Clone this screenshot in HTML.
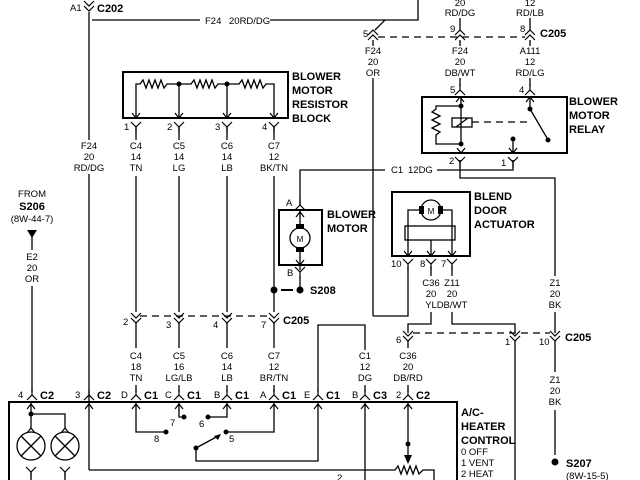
<!DOCTYPE html>
<html><head><meta charset="utf-8"><style>
html,body{margin:0;padding:0;background:#fff;}
svg{display:block;}
text{font-family:"Liberation Sans",sans-serif;fill:#000;}
.s{font-size:9.5px;text-anchor:middle;}
.sl{font-size:9.5px;}
.b{font-size:11px;font-weight:bold;}
</style></head><body>
<svg width="640" height="480" viewBox="0 0 640 480" xmlns="http://www.w3.org/2000/svg">
<defs>
<g id="fd"><polyline points="-5,-5 0,0 5,-5" fill="none" stroke="#000" stroke-width="1.2"/><line x1="0" y1="0" x2="0" y2="6" stroke="#000" stroke-width="1.2"/></g>
<g id="fu"><polyline points="-5,5 0,0 5,5" fill="none" stroke="#000" stroke-width="1.2"/><line x1="0" y1="0" x2="0" y2="-6" stroke="#000" stroke-width="1.2"/></g>
<g id="dd"><polyline points="-5,-6 0,-1 5,-6" fill="none" stroke="#000" stroke-width="1.2"/><polyline points="-5,-1 0,4 5,-1" fill="none" stroke="#000" stroke-width="1.2"/></g>
<g id="du"><polyline points="-5,1 0,-4 5,1" fill="none" stroke="#000" stroke-width="1.2"/><polyline points="-5,6 0,1 5,6" fill="none" stroke="#000" stroke-width="1.2"/></g>
<g id="ad"><polyline points="-4,-5 0,0 4,-5" fill="none" stroke="#000" stroke-width="1.2"/></g>
<g id="au"><polyline points="-4,5 0,0 4,5" fill="none" stroke="#000" stroke-width="1.2"/></g>
</defs>
<g stroke="#000" stroke-width="1.3" fill="none">
<line x1="89" y1="12" x2="89" y2="140"/><line x1="89" y1="174" x2="89" y2="470"/>
<polyline points="92,20 200,20"/><polyline points="270,20 418,20 418,0"/>
<polyline points="385,20 375,30"/>
<line x1="378" y1="37" x2="525" y2="37" stroke-dasharray="7,5"/>
<line x1="460" y1="18" x2="460" y2="30"/><line x1="530" y1="18" x2="530" y2="30"/>
<line x1="373" y1="40" x2="373" y2="46"/><line x1="460" y1="40" x2="460" y2="46"/><line x1="530" y1="40" x2="530" y2="46"/>
<line x1="373" y1="78" x2="373" y2="316"/><polyline points="373,316 408,316 408,267"/>
<line x1="460" y1="78" x2="460" y2="86"/><line x1="530" y1="78" x2="530" y2="86"/>
<rect x="123" y="72" width="165" height="46" stroke-width="2"/>
<polyline points="136,118 136,84 140,84 143,80 146,88 149,80 152,88 155,80 158,88 161,80 164,88 167,84 179,84 191,84 194,80 197,88 200,80 203,88 206,80 209,88 212,80 215,88 218,84 227,84 239,84 242,80 245,88 248,80 251,88 254,80 257,88 260,80 263,88 266,84 274,84 274,118"/>
<line x1="179" y1="84" x2="179" y2="118"/><line x1="227" y1="84" x2="227" y2="118"/>
<line x1="136" y1="126" x2="136" y2="140"/><line x1="179" y1="126" x2="179" y2="140"/><line x1="227" y1="126" x2="227" y2="140"/><line x1="274" y1="126" x2="274" y2="140"/>
<line x1="136" y1="176" x2="136" y2="312"/><line x1="179" y1="176" x2="179" y2="312"/><line x1="227" y1="176" x2="227" y2="312"/><line x1="274" y1="176" x2="274" y2="312"/>
<line x1="140" y1="316" x2="272" y2="316" stroke-dasharray="7,5"/>
<line x1="136" y1="322" x2="136" y2="348"/><line x1="179" y1="322" x2="179" y2="348"/><line x1="227" y1="322" x2="227" y2="348"/><line x1="274" y1="322" x2="274" y2="348"/>
<line x1="136" y1="385" x2="136" y2="392"/><line x1="179" y1="385" x2="179" y2="392"/><line x1="227" y1="385" x2="227" y2="392"/><line x1="274" y1="385" x2="274" y2="392"/>
<line x1="32" y1="234" x2="32" y2="250"/><line x1="32" y1="286" x2="32" y2="392"/>
<rect x="279" y="210" width="43" height="55" stroke-width="2"/>
<polyline points="300,205 300,170 385,170"/><polyline points="437,170 513,170 513,160"/>
<line x1="300" y1="210" x2="300" y2="228"/><line x1="300" y1="248" x2="300" y2="270"/>
<circle cx="300" cy="238" r="10"/>
<line x1="300" y1="276" x2="300" y2="290"/>
<line x1="281" y1="290" x2="293" y2="290" stroke-width="2"/>
<rect x="422" y="97" width="145" height="56" stroke-width="2"/>
<polyline points="461,97 461,146"/>
<polyline points="461,106 436,106 436,109 432,112 440,116 432,120 440,124 432,128 440,132 436,135 436,144 461,144"/>
<rect x="452" y="118" width="20" height="9"/>
<line x1="456" y1="127" x2="468" y2="118"/>
<line x1="472" y1="122" x2="530" y2="122" stroke-dasharray="7,5"/>
<line x1="530" y1="97" x2="530" y2="109"/><line x1="530" y1="109" x2="547" y2="138"/>
<line x1="513" y1="139" x2="513" y2="153"/>
<polyline points="460,160 460,178 555,178 555,276"/>
<rect x="392" y="192" width="78" height="64" stroke-width="2"/>
<circle cx="431" cy="210" r="10"/>
<polyline points="421,210 408,210 408,256"/><polyline points="441,210 452,210 452,256"/>
<rect x="405" y="226" width="50" height="14"/>
<line x1="431" y1="240" x2="431" y2="256"/>
<line x1="431" y1="266" x2="431" y2="276"/><line x1="452" y1="266" x2="452" y2="276"/>
<polyline points="431,312 431,324 408,324 408,333"/>
<polyline points="452,312 452,324 515,324 515,333"/>
<line x1="413" y1="333" x2="550" y2="333" stroke-dasharray="7,5"/>
<line x1="555" y1="312" x2="555" y2="333"/>
<line x1="555" y1="340" x2="555" y2="372"/><line x1="555" y1="410" x2="555" y2="455"/>
<line x1="515" y1="340" x2="515" y2="480"/>
<line x1="408" y1="340" x2="408" y2="348"/><line x1="408" y1="385" x2="408" y2="392"/>
<polyline points="365,350 365,325 318,325 318,392"/>
<line x1="365" y1="385" x2="365" y2="392"/>
<polyline points="9,480 9,402 457,402 457,480" stroke-width="2"/>
<polyline points="31,402 31,428"/><polyline points="31,414 65,414 65,428"/>
<circle cx="31" cy="446" r="14"/><circle cx="65" cy="446" r="14"/>
<line x1="21" y1="436" x2="41" y2="456"/><line x1="41" y1="436" x2="21" y2="456"/>
<line x1="55" y1="436" x2="75" y2="456"/><line x1="75" y1="436" x2="55" y2="456"/>
<line x1="31" y1="472" x2="31" y2="480"/><line x1="65" y1="472" x2="65" y2="480"/>
<polyline points="136,402 136,432 166,432"/>
<polyline points="179,402 179,417 184,417"/>
<polyline points="227,402 227,417 208,417"/>
<polyline points="274,402 274,432 226,432"/>
<line x1="196" y1="448" x2="220" y2="435"/>
<polyline points="196,448 196,461 318,461 318,402"/>
<polyline points="89,470 395,470 398,466 401,474 404,466 407,474 410,466 413,474 416,466 419,474 423,470 434,470 434,480"/>
<line x1="408" y1="402" x2="408" y2="456"/>
<line x1="365" y1="402" x2="365" y2="480"/>
</g>
<g fill="#000">
<circle cx="179" cy="84" r="2.5"/><circle cx="227" cy="84" r="2.5"/>
<rect x="296" y="224" width="8" height="5"/><rect x="296" y="247" width="8" height="5"/>
<rect x="419" y="206" width="5" height="8"/><rect x="438" y="206" width="5" height="8"/>
<circle cx="274" cy="290" r="3.5"/><circle cx="300" cy="290" r="3.5"/>
<circle cx="461" cy="106" r="2.5"/><circle cx="461" cy="144" r="2.5"/>
<circle cx="530" cy="109" r="2.5"/><circle cx="548" cy="140" r="2.5"/><circle cx="513" cy="139" r="2.5"/>
<circle cx="555" cy="462" r="3.5"/>
<polygon points="27,230 37,230 32,238"/>
<circle cx="31" cy="414" r="2.5"/>
<circle cx="166" cy="432" r="2.5"/><circle cx="184" cy="417" r="2.5"/><circle cx="208" cy="417" r="2.5"/><circle cx="226" cy="432" r="2.5"/><circle cx="196" cy="448" r="2.5"/>
<circle cx="408" cy="444" r="2.5"/>
<polygon points="404,455 412,455 408,464"/>
<polygon points="214,436 221,434 218,440"/>
<text x="300" y="242" style="font-size:8px;text-anchor:middle">M</text>
<text x="431" y="214" style="font-size:8px;text-anchor:middle">M</text>
</g>
<use href="#dd" x="89" y="7"/>
<use href="#du" x="373" y="34"/><use href="#du" x="460" y="34"/><use href="#du" x="530" y="34"/>
<use href="#fu" x="460" y="90"/><use href="#fu" x="530" y="90"/>
<use href="#au" x="460" y="97"/><use href="#au" x="530" y="97"/>
<use href="#ad" x="461" y="153"/><use href="#ad" x="513" y="153"/>
<use href="#fd" x="460" y="162"/><use href="#fd" x="513" y="162"/>
<use href="#ad" x="136" y="118"/><use href="#ad" x="179" y="118"/><use href="#ad" x="227" y="118"/><use href="#ad" x="274" y="118"/>
<use href="#fd" x="136" y="127"/><use href="#fd" x="179" y="127"/><use href="#fd" x="227" y="127"/><use href="#fd" x="274" y="127"/>
<use href="#dd" x="136" y="319"/><use href="#dd" x="179" y="319"/><use href="#dd" x="227" y="319"/><use href="#dd" x="274" y="319"/>
<use href="#fu" x="300" y="205"/><use href="#au" x="300" y="212"/>
<use href="#ad" x="300" y="265"/><use href="#fd" x="300" y="272"/>
<use href="#ad" x="408" y="256"/><use href="#ad" x="431" y="256"/><use href="#ad" x="452" y="256"/>
<use href="#fd" x="408" y="264"/><use href="#fd" x="431" y="264"/><use href="#fd" x="452" y="264"/>
<use href="#dd" x="408" y="337"/><use href="#dd" x="515" y="337"/><use href="#dd" x="555" y="337"/>
<use href="#fu" x="32" y="395"/><use href="#fu" x="89" y="395"/><use href="#fu" x="136" y="395"/><use href="#fu" x="179" y="395"/><use href="#fu" x="227" y="395"/><use href="#fu" x="274" y="395"/><use href="#fu" x="318" y="395"/><use href="#fu" x="365" y="395"/><use href="#fu" x="408" y="395"/>
<use href="#au" x="31" y="404"/><use href="#au" x="89" y="404"/><use href="#au" x="136" y="404"/><use href="#au" x="179" y="404"/><use href="#au" x="227" y="404"/><use href="#au" x="274" y="404"/><use href="#au" x="318" y="404"/><use href="#au" x="365" y="404"/><use href="#au" x="408" y="404"/>
<use href="#au" x="31" y="428"/><use href="#au" x="65" y="428"/>
<use href="#fd" x="31" y="472"/><use href="#fd" x="65" y="472"/>
<text class="sl" x="70" y="11">A1</text><text class="b" x="97" y="12">C202</text>
<text class="sl" x="205" y="24">F24</text><text class="sl" x="229" y="24">20RD/DG</text>
<text class="s" x="460" y="6">20</text><text class="s" x="460" y="16">RD/DG</text>
<text class="s" x="530" y="6">12</text><text class="s" x="530" y="16">RD/LB</text>
<text class="sl" x="363" y="37">5</text><text class="sl" x="450" y="32">9</text><text class="sl" x="520" y="32">8</text><text class="b" x="540" y="37">C205</text>
<text class="s" x="373" y="54">F24</text><text class="s" x="373" y="65">20</text><text class="s" x="373" y="76">OR</text>
<text class="s" x="460" y="54">F24</text><text class="s" x="460" y="65">20</text><text class="s" x="460" y="76">DB/WT</text>
<text class="s" x="530" y="54">A111</text><text class="s" x="530" y="65">12</text><text class="s" x="530" y="76">RD/LG</text>
<text class="sl" x="450" y="93">5</text><text class="sl" x="519" y="93">4</text>
<text class="b" x="569" y="105">BLOWER</text><text class="b" x="569" y="119">MOTOR</text><text class="b" x="569" y="133">RELAY</text>
<text class="sl" x="449" y="164">2</text><text class="sl" x="501" y="166">1</text>
<text class="sl" x="391" y="173">C1</text><text class="sl" x="408" y="173">12DG</text>
<text class="b" x="292" y="80">BLOWER</text><text class="b" x="292" y="94">MOTOR</text><text class="b" x="292" y="108">RESISTOR</text><text class="b" x="292" y="122">BLOCK</text>
<text class="sl" x="124" y="130">1</text><text class="sl" x="167" y="130">2</text><text class="sl" x="215" y="130">3</text><text class="sl" x="262" y="130">4</text>
<text class="s" x="89" y="149">F24</text><text class="s" x="89" y="160">20</text><text class="s" x="89" y="171">RD/DG</text>
<text class="s" x="136" y="149">C4</text><text class="s" x="136" y="160">14</text><text class="s" x="136" y="171">TN</text>
<text class="s" x="179" y="149">C5</text><text class="s" x="179" y="160">14</text><text class="s" x="179" y="171">LG</text>
<text class="s" x="227" y="149">C6</text><text class="s" x="227" y="160">14</text><text class="s" x="227" y="171">LB</text>
<text class="s" x="274" y="149">C7</text><text class="s" x="274" y="160">12</text><text class="s" x="274" y="171">BK/TN</text>
<text class="s" x="32" y="197">FROM</text><text class="b" x="32" y="210" text-anchor="middle">S206</text><text class="s" x="32" y="222">(8W-44-7)</text>
<text class="s" x="32" y="260">E2</text><text class="s" x="32" y="271">20</text><text class="s" x="32" y="282">OR</text>
<text class="sl" x="286" y="206">A</text><text class="sl" x="287" y="276">B</text>
<text class="b" x="327" y="218">BLOWER</text><text class="b" x="327" y="232">MOTOR</text>
<text class="b" x="310" y="294">S208</text>
<text class="b" x="474" y="200">BLEND</text><text class="b" x="474" y="214">DOOR</text><text class="b" x="474" y="228">ACTUATOR</text>
<text class="sl" x="391" y="267">10</text><text class="sl" x="420" y="267">8</text><text class="sl" x="441" y="267">7</text>
<text class="s" x="431" y="286">C36</text><text class="s" x="431" y="297">20</text><text class="s" x="431" y="308">YL</text>
<text class="s" x="452" y="286">Z11</text><text class="s" x="452" y="297">20</text><text class="s" x="452" y="308">DB/WT</text>
<text class="s" x="555" y="286">Z1</text><text class="s" x="555" y="297">20</text><text class="s" x="555" y="308">BK</text>
<text class="sl" x="123" y="325">2</text><text class="sl" x="166" y="328">3</text><text class="sl" x="213" y="328">4</text><text class="sl" x="261" y="328">7</text><text class="b" x="283" y="324">C205</text>
<text class="sl" x="396" y="343">6</text><text class="sl" x="505" y="345">1</text><text class="sl" x="539" y="345">10</text><text class="b" x="565" y="341">C205</text>
<text class="s" x="136" y="359">C4</text><text class="s" x="136" y="370">18</text><text class="s" x="136" y="381">TN</text>
<text class="s" x="179" y="359">C5</text><text class="s" x="179" y="370">16</text><text class="s" x="179" y="381">LG/LB</text>
<text class="s" x="227" y="359">C6</text><text class="s" x="227" y="370">14</text><text class="s" x="227" y="381">LB</text>
<text class="s" x="274" y="359">C7</text><text class="s" x="274" y="370">12</text><text class="s" x="274" y="381">BR/TN</text>
<text class="s" x="365" y="359">C1</text><text class="s" x="365" y="370">12</text><text class="s" x="365" y="381">DG</text>
<text class="s" x="408" y="359">C36</text><text class="s" x="408" y="370">20</text><text class="s" x="408" y="381">DB/RD</text>
<text class="s" x="555" y="383">Z1</text><text class="s" x="555" y="394">20</text><text class="s" x="555" y="405">BK</text>
<text class="sl" x="18" y="398">4</text><text class="b" x="40" y="399">C2</text>
<text class="sl" x="75" y="398">3</text><text class="b" x="97" y="399">C2</text>
<text class="sl" x="121" y="398">D</text><text class="b" x="144" y="399">C1</text>
<text class="sl" x="165" y="398">C</text><text class="b" x="187" y="399">C1</text>
<text class="sl" x="214" y="398">B</text><text class="b" x="235" y="399">C1</text>
<text class="sl" x="260" y="398">A</text><text class="b" x="282" y="399">C1</text>
<text class="sl" x="304" y="398">E</text><text class="b" x="326" y="399">C1</text>
<text class="sl" x="352" y="398">B</text><text class="b" x="373" y="399">C3</text>
<text class="sl" x="396" y="398">2</text><text class="b" x="416" y="399">C2</text>
<text class="b" x="461" y="416">A/C-</text><text class="b" x="461" y="430">HEATER</text><text class="b" x="461" y="444">CONTROL</text>
<text class="sl" x="461" y="455">0 OFF</text><text class="sl" x="461" y="466">1 VENT</text><text class="sl" x="461" y="477">2 HEAT</text><text class="sl" x="461" y="488">3 MIX</text>
<text class="sl" x="154" y="442">8</text><text class="sl" x="170" y="426">7</text><text class="sl" x="199" y="427">6</text><text class="sl" x="229" y="442">5</text>
<text class="sl" x="337" y="481">2</text>
<text class="b" x="566" y="467">S207</text><text class="sl" x="566" y="479">(8W-15-5)</text>
</svg>
</body></html>
